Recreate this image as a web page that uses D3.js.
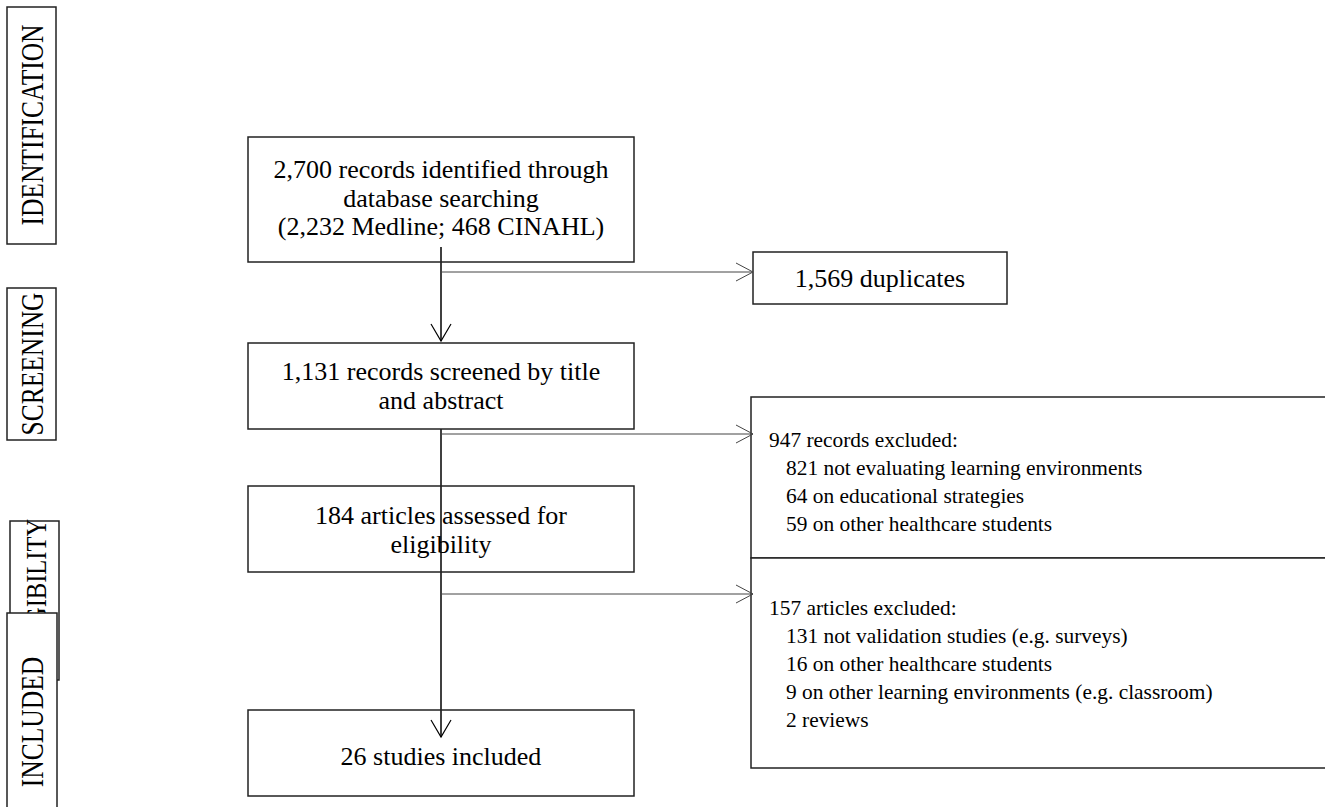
<!DOCTYPE html>
<html>
<head>
<meta charset="utf-8">
<script src="https://cdn.jsdelivr.net/npm/d3@7"></script>
<style>
  body { margin: 0; background: #fff; }
  svg { display: block; }
  text { font-family: "Liberation Serif", "Times New Roman", serif; fill: #000; }
</style>
</head>
<body>
<div id="chart"></div>
<script>
// ---- data ----
const stages = ["IDENTIFICATION", "SCREENING", "ELIGIBILITY", "INCLUDED"];

const flowSteps = [
  ["2,700 records identified through", "database searching", "(2,232 Medline; 468 CINAHL)"],
  ["1,131 records screened by title", "and abstract"],
  ["184 articles assessed for", "eligibility"],
  ["26 studies included"]
];

const exclusionHeads = ["1,569 duplicates", "947 records excluded:", "157 articles excluded:"];

const exclusionReasons = [
  [],
  ["821 not evaluating learning environments", "64 on educational strategies", "59 on other healthcare students"],
  ["131 not validation studies (e.g. surveys)", "16 on other healthcare students",
   "9 on other learning environments (e.g. classroom)", "2 reviews"]
];

// ---- layout ----
const width = 1325, height = 807;
// bx = baseline x of the rotated label, cy = its centre
const stageLayout = [
  { x: 7, y: 7, w: 49, h: 237, bx: 43, cy: 125, fs: 25.5 },
  { x: 7, y: 288, w: 49, h: 152, bx: 43, cy: 364, fs: 25.5 },
  { x: 10, y: 521, w: 49, h: 159, bx: 46, cy: 591, fs: 24.5 },
  { x: 7, y: 613, w: 50, h: 220, bx: 43, cy: 722, fs: 25.5 }
];
const stepLayout = [
  { y: 137, h: 125, base: 178 },
  { y: 343, h: 86, base: 380 },
  { y: 486, h: 86, base: 524 },
  { y: 710, h: 86, base: 765 }
];
const stepX = 248, stepW = 386, spineX = 441;
const exclLayout = [
  { x: 753, y: 252, w: 254, h: 52, arrowY: 272, base: 287, centered: true },
  { x: 751, y: 397, w: 620, h: 161, arrowY: 434, base: 447 },
  { x: 751, y: 558, w: 620, h: 210, arrowY: 594, base: 615 }
];
const lineGap = 28.5, exclGap = 28;

const svg = d3.select("#chart").append("svg")
  .attr("width", width)
  .attr("height", height);

// stage labels on the left (INCLUDED drawn last with white fill, covering part of ELIGIBILITY)
const stageG = svg.selectAll("g.stage").data(stages)
  .join("g")
  .classed("stage", true);

stageG.append("rect")
  .attr("x", (d, i) => stageLayout[i].x)
  .attr("y", (d, i) => stageLayout[i].y)
  .attr("width", (d, i) => stageLayout[i].w)
  .attr("height", (d, i) => stageLayout[i].h)
  .attr("fill", "#fff")
  .attr("stroke", "#222")
  .attr("stroke-width", 1.5);

stageG.append("text")
  .attr("transform", (d, i) => `translate(${stageLayout[i].bx}, ${stageLayout[i].cy}) rotate(-90) scale(1, 1.2)`)
  .attr("text-anchor", "middle")
  .attr("font-size", (d, i) => stageLayout[i].fs)
  .text(d => d);

const arrowLine = d3.line();

// vertical spine
svg.append("path")
  .attr("d", arrowLine([[spineX, 247], [spineX, 341]]))
  .attr("stroke", "#000").attr("stroke-width", 1.5).attr("fill", "none");
svg.append("path")
  .attr("d", arrowLine([[spineX, stepLayout[1].y + stepLayout[1].h], [spineX, 737]]))
  .attr("stroke", "#000").attr("stroke-width", 1.5).attr("fill", "none");

// main boxes
const stepG = svg.selectAll("g.step").data(flowSteps)
  .join("g")
  .classed("step", true);

stepG.append("rect")
  .attr("x", stepX)
  .attr("y", (d, i) => stepLayout[i].y)
  .attr("width", stepW)
  .attr("height", (d, i) => stepLayout[i].h)
  .attr("fill", "none")
  .attr("stroke", "#222")
  .attr("stroke-width", 1.5);

stepG.each(function (lines, i) {
  d3.select(this).selectAll("text").data(lines)
    .join("text")
    .attr("x", spineX)
    .attr("y", (d, j) => stepLayout[i].base + j * lineGap)
    .attr("text-anchor", "middle")
    .attr("font-size", 26)
    .text(d => d);
});

// down arrowheads
[341, 737].forEach(tip => {
  svg.append("path")
    .attr("d", arrowLine([[spineX - 10, tip - 17], [spineX, tip], [spineX + 10, tip - 17]]))
    .attr("stroke", "#000").attr("stroke-width", 1.2).attr("fill", "none");
});

// exclusion boxes
const exclG = svg.selectAll("g.excl").data(exclusionHeads)
  .join("g")
  .classed("excl", true);

exclG.append("rect")
  .attr("x", (d, i) => exclLayout[i].x)
  .attr("y", (d, i) => exclLayout[i].y)
  .attr("width", (d, i) => exclLayout[i].w)
  .attr("height", (d, i) => exclLayout[i].h)
  .attr("fill", "#fff")
  .attr("stroke", "#222")
  .attr("stroke-width", 1.5);

exclG.append("path")
  .attr("d", (d, i) => arrowLine([[spineX, exclLayout[i].arrowY], [753, exclLayout[i].arrowY]]))
  .attr("stroke", "#444").attr("stroke-width", 1).attr("fill", "none");

exclG.append("path")
  .attr("d", (d, i) => arrowLine([[736, exclLayout[i].arrowY - 9], [753, exclLayout[i].arrowY], [736, exclLayout[i].arrowY + 9]]))
  .attr("stroke", "#444").attr("stroke-width", 1).attr("fill", "none");

exclG.each(function (head, i) {
  const L = exclLayout[i];
  const g = d3.select(this);
  if (L.centered) {
    g.append("text")
      .attr("x", L.x + L.w / 2)
      .attr("y", L.base)
      .attr("text-anchor", "middle")
      .attr("font-size", 26)
      .text(head);
  } else {
    g.append("text")
      .attr("x", 769)
      .attr("y", L.base)
      .attr("font-size", 21.4)
      .text(head);
    g.selectAll("text.reason").data(exclusionReasons[i])
      .join("text")
      .classed("reason", true)
      .attr("x", 786)
      .attr("y", (d, j) => L.base + (j + 1) * exclGap)
      .attr("font-size", 21.4)
      .text(d => d);
  }
});
</script>
</body>
</html>
